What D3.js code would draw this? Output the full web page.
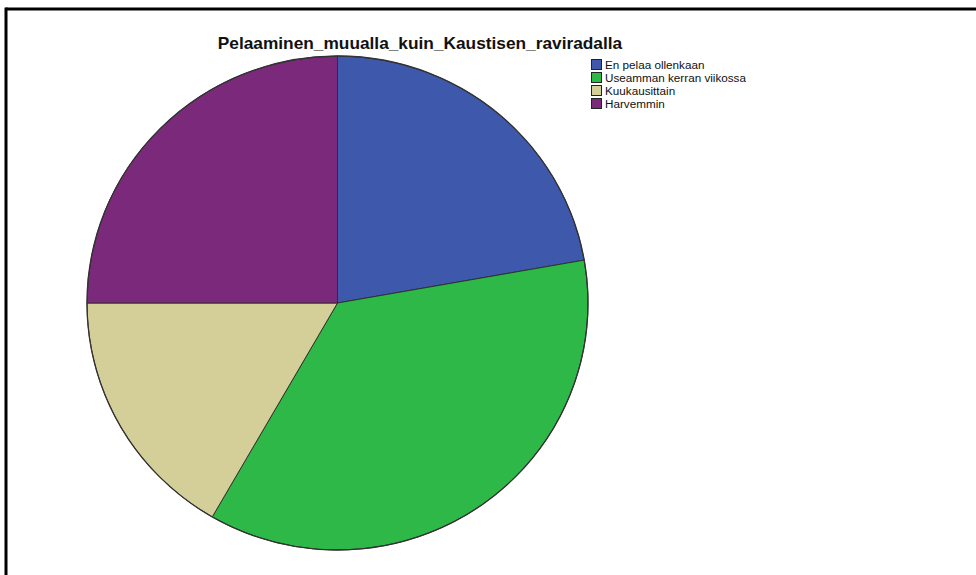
<!DOCTYPE html>
<html>
<head>
<meta charset="utf-8">
<script src="https://cdn.jsdelivr.net/npm/d3@7"></script>
<style>
  html, body { margin: 0; padding: 0; background: #fff; }
  svg { display: block; }
</style>
</head>
<body>
<svg id="chart" width="976" height="575"></svg>
<script>
// Survey answers: gambling elsewhere than at the Kaustinen trotting track
const title = "Pelaaminen_muualla_kuin_Kaustisen_raviradalla";
const categories = ["En pelaa ollenkaan", "Useamman kerran viikossa", "Kuukausittain", "Harvemmin"];
const counts = [8, 13, 6, 9];
const colors = ["#3e58ac", "#2eb848", "#d4cf98", "#7b2a7b"];

const svg = d3.select("#chart");

// frame lines (top and left)
svg.append("line").attr("x1", 6).attr("x2", 976).attr("y1", 9).attr("y2", 9)
  .attr("stroke", "#000").attr("stroke-width", 3);
svg.append("line").attr("x1", 6).attr("x2", 6).attr("y1", 7.5).attr("y2", 575)
  .attr("stroke", "#000").attr("stroke-width", 3);

// title
svg.append("text")
  .attr("x", 420).attr("y", 49)
  .attr("text-anchor", "middle")
  .attr("font-family", "Arial, 'Liberation Sans', sans-serif")
  .attr("font-weight", "bold")
  .attr("font-size", 17.3)
  .attr("fill", "#111")
  .text(title);

// pie
const cx = 337.5, cy = 303, rx = 250.5, ry = 247;
const pie = d3.pie().sort(null).value(d => d);
const arcs = pie(counts);
const arc = d3.arc().innerRadius(0).outerRadius(rx);

const g = svg.append("g")
  .attr("transform", `translate(${cx},${cy}) scale(1,${ry / rx})`);

g.selectAll("path.slice")
  .data(arcs)
  .join("path")
  .attr("class", "slice")
  .attr("d", arc)
  .attr("fill", (d, i) => colors[i])
  .attr("stroke", "#2a2a2a")
  .attr("stroke-width", 0.9)
  .attr("vector-effect", "non-scaling-stroke")
  .attr("stroke-linejoin", "round");

// darker rim around the pie
g.append("circle")
  .attr("r", rx)
  .attr("fill", "none")
  .attr("stroke", "#333")
  .attr("stroke-width", 1.3)
  .attr("vector-effect", "non-scaling-stroke");

// legend
const legend = svg.append("g").attr("transform", "translate(591,59)");
const rowH = 13;
const items = legend.selectAll("g.item")
  .data(categories)
  .join("g")
  .attr("class", "item")
  .attr("transform", (d, i) => `translate(0,${i * rowH})`);

items.append("rect")
  .attr("x", 0.5).attr("y", 0.5)
  .attr("width", 10).attr("height", 10)
  .attr("fill", (d, i) => colors[i])
  .attr("stroke", "#222")
  .attr("stroke-width", 1);

items.append("text")
  .attr("x", 14).attr("y", 9.8)
  .attr("font-family", "Arial, 'Liberation Sans', sans-serif")
  .attr("font-size", 11.7)
  .attr("fill", "#111")
  .text(d => d);
</script>
</body>
</html>
